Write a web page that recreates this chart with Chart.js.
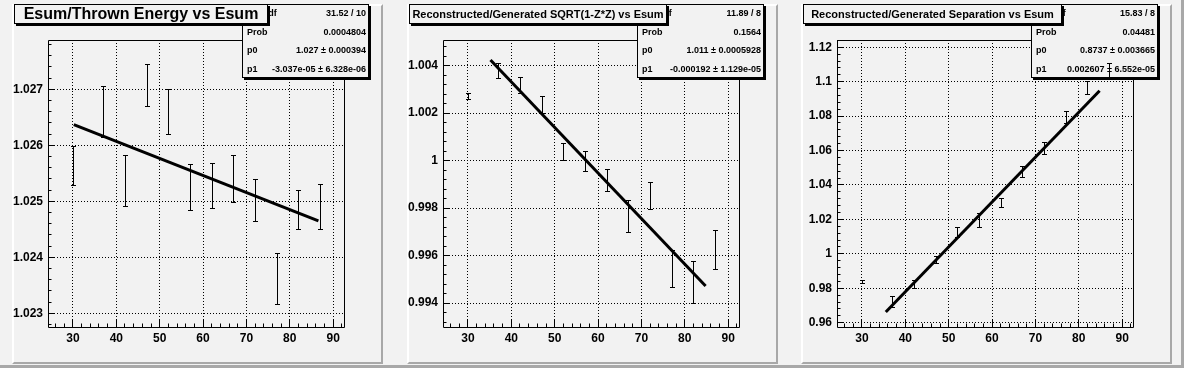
<!DOCTYPE html>
<html>
<head>
<meta charset="utf-8">
<script src="https://cdn.jsdelivr.net/npm/chart.js@4.4.1/dist/chart.umd.min.js"></script>
<style>
  body { margin: 0; width: 1184px; height: 368px; overflow: hidden; background: #f2f2f2; position: relative; font-family: "Liberation Sans", Arial, sans-serif; }
  .outer { position: absolute; left: 0; top: 0; width: 1181px; height: 365px; border-right: 3px solid #a8a8a8; border-bottom: 3px solid #a8a8a8; }
  .pad { position: absolute; top: 4px; width: 367px; height: 356px; background: #f2f2f2; border: 2px solid #a8a8a8; border-top-color: #fff; border-left-color: #fff; }
  canvas { position: absolute; top: 4px; }
  .stats { position: absolute; top: 4px; width: 127px; height: 74px; font: bold 9px "Liberation Sans", Arial, sans-serif; color: #000; }
  .stats div { position: absolute; left: 0; right: 0; height: 18.5px; line-height: 18.5px; white-space: nowrap; }
  .stats .l { position: absolute; left: 5px; }
  .stats .v { position: absolute; right: 3px; }
  .title { position: absolute; top: 4px; height: 18px; line-height: 18px; border: 1px solid #000; box-shadow: 2px 2px 0 #000; background: #f2f2f2; text-align: center; font-weight: bold; white-space: nowrap; color: #000; }
</style>
</head>
<body>
<div class="outer"></div>
<script>
// x positions (Esum) shared by all three graphs
const esum = [30, 37, 42, 47, 52, 57, 62, 67, 72, 77, 82, 87];

// Esum / thrown energy
const energyRatio = [1.02564, 1.0266, 1.02537, 1.02708, 1.0266, 1.02525, 1.02528, 1.0254, 1.02502, 1.02362, 1.02485, 1.0249];
const energyErr = [0.00035, 0.00046, 0.00045, 0.00038, 0.0004, 0.00041, 0.0004, 0.00042, 0.00037, 0.00046, 0.00035, 0.0004];
const energyFitX = [30.2, 86.6];
const energyFitY = [1.02637, 1.02465];

// reconstructed / generated sqrt(1-z*z)
const sqrtRatio = [1.00272, 1.0038, 1.00317, 1.00235, 1.00038, 1.0, 0.99918, 0.99765, 0.99853, 0.99545, 0.99488, 0.99625];
const sqrtErr = [0.00014, 0.0003, 0.00034, 0.00035, 0.00035, 0.00042, 0.00048, 0.00067, 0.00058, 0.00078, 0.00087, 0.00082];
const sqrtFitX = [35.2, 84.8];
const sqrtFitY = [1.00424, 0.99472];

// reconstructed / generated separation
const sepRatio = [0.98382, 0.9724, 0.9823, 0.9967, 1.0125, 1.0195, 1.0298, 1.048, 1.0614, 1.0793, 1.0967, 1.1063];
const sepErr = [0.001, 0.0031, 0.0023, 0.0022, 0.0029, 0.0041, 0.0028, 0.0032, 0.0034, 0.0034, 0.0038, 0.0045];
const sepFitX = [35.5, 84.8];
const sepFitY = [0.96625, 1.09477];

// axes
const xTicks = [30, 40, 50, 60, 70, 80, 90];
const xTickLabels = ['30', '40', '50', '60', '70', '80', '90'];
const energyTicks = [1.023, 1.024, 1.025, 1.026, 1.027];
const energyTickLabels = ['1.023', '1.024', '1.025', '1.026', '1.027'];
const sqrtTicks = [0.994, 0.996, 0.998, 1, 1.002, 1.004];
const sqrtTickLabels = ['0.994', '0.996', '0.998', '1', '1.002', '1.004'];
const sepTicks = [0.96, 0.98, 1, 1.02, 1.04, 1.06, 1.08, 1.1, 1.12];
const sepTickLabels = ['0.96', '0.98', '1', '1.02', '1.04', '1.06', '1.08', '1.1', '1.12'];

// texts
const titles = ['Esum/Thrown Energy vs Esum', 'Reconstructed/Generated SQRT(1-Z*Z) vs Esum', 'Reconstructed/Generated Separation vs Esum'];
const statLabels = ['\u03c7\u00b2 / ndf', 'Prob', 'p0', 'p1'];
const energyStats = ['31.52 / 10', '0.0004804', '1.027 \u00b1 0.000394', '-3.037e-05 \u00b1 6.328e-06'];
const sqrtStats = ['11.89 / 8', '0.1564', '1.011 \u00b1 0.0005928', '-0.000192 \u00b1 1.129e-05'];
const sepStats = ['15.83 / 8', '0.04481', '0.8737 \u00b1 0.003665', '0.002607 \u00b1 6.552e-05'];

// ROOT-like frame: box, inner ticks, stats box background, error bars
const rootFrame = {
    id: 'rootFrame',
    beforeDatasetsDraw(chart, args, opts) {
        const { ctx, chartArea: a, scales: { x, y } } = chart;
        const al = p => Math.round(p - 0.5) + 0.5;
        ctx.save();
        ctx.strokeStyle = '#000';
        ctx.lineWidth = 1;
        ctx.beginPath();
        ctx.rect(a.left + 0.5, a.top + 0.5, a.right - a.left, a.bottom - a.top);
        // x ticks every 2, major every 10
        for (let i = Math.ceil(x.min / 2); i <= Math.floor(x.max / 2); i++) {
            const px = al(x.getPixelForValue(i * 2));
            const len = i % 5 === 0 ? 7 : 3.5;
            ctx.moveTo(px, a.bottom);
            ctx.lineTo(px, a.bottom - len);
        }
        const st = opts.yMinor;
        for (let i = Math.ceil(y.min / st - 1e-6); i <= Math.floor(y.max / st + 1e-6); i++) {
            const py = al(y.getPixelForValue(i * st));
            const len = i % 5 === 0 ? 6 : 3.5;
            ctx.moveTo(a.left, py);
            ctx.lineTo(a.left + len, py);
        }
        ctx.stroke();
        // stats box
        const b = opts.box;
        ctx.fillStyle = '#000';
        ctx.fillRect(b.left + 2, b.top + 2, b.w, b.h);
        ctx.fillStyle = '#f2f2f2';
        ctx.fillRect(b.left, b.top, b.w, b.h);
        ctx.strokeRect(b.left + 0.5, b.top + 0.5, b.w - 1, b.h - 1);
        ctx.restore();
    },
    afterDatasetsDraw(chart, args, opts) {
        const { ctx, scales: { y } } = chart;
        const meta = chart.getDatasetMeta(0);
        const pts = chart.data.datasets[0].data;
        ctx.save();
        ctx.strokeStyle = '#000';
        ctx.lineWidth = 1;
        ctx.beginPath();
        meta.data.forEach((el, i) => {
            const cx = Math.round(el.x);
            const top = Math.round(y.getPixelForValue(pts[i].y + opts.err[i])) + 0.5;
            const bot = Math.round(y.getPixelForValue(pts[i].y - opts.err[i])) + 0.5;
            ctx.moveTo(cx + 0.5, top);
            ctx.lineTo(cx + 0.5, bot);
            ctx.moveTo(cx - 2, top);
            ctx.lineTo(cx + 3, top);
            ctx.moveTo(cx - 2, bot);
            ctx.lineTo(cx + 3, bot);
        });
        ctx.stroke();
        ctx.restore();
    }
};

const tickFont = { family: 'Liberation Sans', weight: 'bold', size: 12 };

function makePanel(k, ox, values, errs, fitX, fitY, yMin, yMax, yTicks, yLabels, yMinor, stats, titleSize, titleW) {
    const pad = document.createElement('div');
    pad.className = 'pad';
    pad.style.left = (12 + ox) + 'px';
    document.body.appendChild(pad);

    const cv = document.createElement('canvas');
    cv.width = 371;
    cv.height = 360;
    cv.style.left = (12 + ox) + 'px';
    document.body.appendChild(cv);

    const st = document.createElement('div');
    st.className = 'stats';
    st.style.left = (242 + ox) + 'px';
    statLabels.forEach((lab, i) => {
        const row = document.createElement('div');
        row.style.top = (i * 18.5) + 'px';
        row.innerHTML = '<span class="l">' + lab + '</span><span class="v">' + stats[i] + '</span>';
        st.appendChild(row);
    });
    document.body.appendChild(st);

    const t = document.createElement('div');
    t.className = 'title';
    t.style.left = (14 + ox) + 'px';
    t.style.width = titleW + 'px';
    t.style.fontSize = titleSize + 'px';
    t.textContent = titles[k];
    document.body.appendChild(t);

    new Chart(cv, {
        type: 'scatter',
        data: {
            datasets: [
                {
                    data: esum.map((v, i) => ({ x: v, y: values[i] })),
                    pointRadius: 0,
                    showLine: false
                },
                {
                    type: 'line',
                    data: fitX.map((v, i) => ({ x: v, y: fitY[i] })),
                    borderColor: '#000',
                    borderWidth: 3,
                    pointRadius: 0,
                    fill: false,
                    tension: 0
                }
            ]
        },
        options: {
            responsive: false,
            animation: false,
            events: [],
            layout: { padding: { top: 36, right: 39, left: 0, bottom: 0 } },
            plugins: {
                legend: { display: false },
                tooltip: { enabled: false },
                rootFrame: { err: errs, yMinor: yMinor, box: { left: 230, top: 0, w: 127, h: 74 } }
            },
            scales: {
                x: {
                    type: 'linear',
                    min: 24.25,
                    max: 92.5,
                    afterBuildTicks: s => { s.ticks = xTicks.map(v => ({ value: v })); },
                    afterFit: s => { s.height = 37; },
                    grid: { color: '#000', lineWidth: 1, drawTicks: false },
                    border: { display: false, dash: [1, 2] },
                    ticks: { color: '#000', font: tickFont, padding: 4, maxRotation: 0, autoSkip: false, callback: (v, i) => xTickLabels[i] }
                },
                y: {
                    type: 'linear',
                    min: yMin,
                    max: yMax,
                    afterBuildTicks: s => { s.ticks = yTicks.map(v => ({ value: v })); },
                    afterFit: s => { s.width = 36; },
                    grid: { color: '#000', lineWidth: 1, drawTicks: false },
                    border: { display: false, dash: [1, 2] },
                    ticks: { color: '#000', font: tickFont, padding: 5, autoSkip: false, callback: (v, i) => yLabels[i] }
                }
            }
        },
        plugins: [rootFrame]
    });
}

makePanel(0, 0, energyRatio, energyErr, energyFitX, energyFitY, 1.022755, 1.02788, energyTicks, energyTickLabels, 0.0002, energyStats, 16, 252);
makePanel(1, 395, sqrtRatio, sqrtErr, sqrtFitX, sqrtFitY, 0.99299, 1.00508, sqrtTicks, sqrtTickLabels, 0.0004, sqrtStats, 11, 256);
makePanel(2, 789, sepRatio, sepErr, sepFitX, sepFitY, 0.9575, 1.1242, sepTicks, sepTickLabels, 0.004, sepStats, 11, 257);
</script>
</body>
</html>
